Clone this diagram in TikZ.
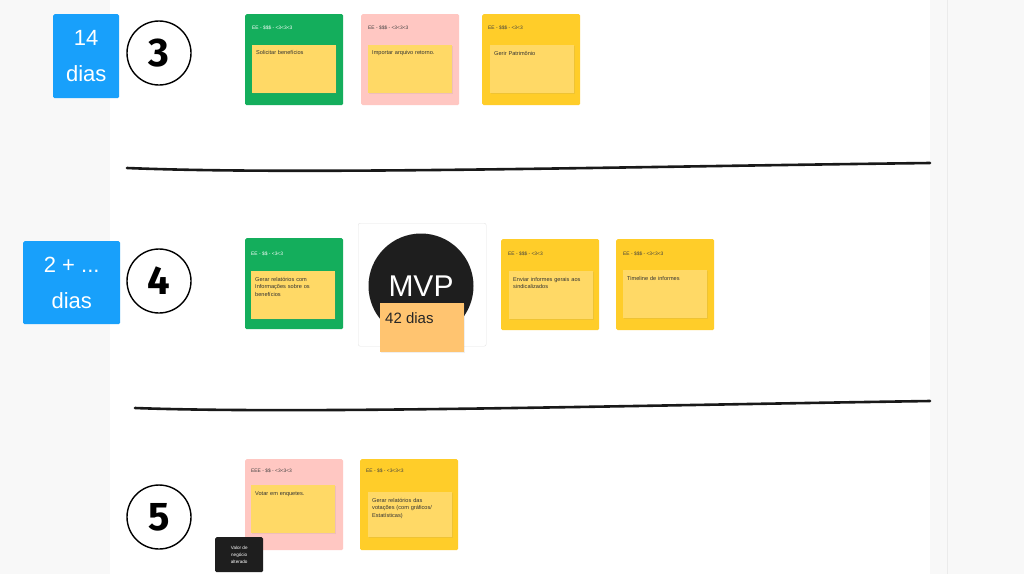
\documentclass[tikz,border=0pt]{standalone}
\usepackage{fontspec}
\setmainfont{Liberation Sans}
\newfontfamily\numfont{Fira Sans}
\usetikzlibrary{shadows}
\newcommand\mynohyph{\hyphenpenalty=10000\relax\exhyphenpenalty=10000\relax}
\definecolor{bgray}{HTML}{F8F8F8}
\definecolor{fblue}{HTML}{18A0FB}
\definecolor{fgreen}{HTML}{14AE5C}
\definecolor{fpink}{HTML}{FFC7C2}
\definecolor{fyellow}{HTML}{FFCD29}
\definecolor{fsticky}{HTML}{FFD966}
\definecolor{forange}{HTML}{FFC470}
\definecolor{fdark}{HTML}{1E1E1E}
\begin{document}
\begin{tikzpicture}[x=1pt,y=-1pt,
  card/.style={rounded corners=1.5pt, inner sep=0, anchor=north west, minimum width=98pt, minimum height=91pt},
  sticky/.style={fill=fsticky, inner sep=0, anchor=north west, minimum width=84pt, minimum height=48pt, drop shadow={opacity=0.12, shadow xshift=0.6pt, shadow yshift=-1pt}},
  hdr/.style={anchor=west, inner sep=0, font=\fontsize{4.9}{5}\selectfont},
  stext/.style={anchor=north west, inner sep=0, text width=70pt, align=left, font=\fontsize{5.6}{7.6}\selectfont\mynohyph, text=black!80},
  bluebox/.style={fill=fblue, rounded corners=1.5pt, text=white, align=center, inner sep=0, font=\fontsize{22}{36}\selectfont},
  numc/.style={circle, draw=black, line width=1.4pt, minimum size=64pt, inner sep=0},
  numtxt/.style={inner sep=0, font=\numfont\bfseries\fontsize{40}{40}\selectfont},
  stroke/.style={line width=2.6pt, line cap=round, black!90}
]
\useasboundingbox (0,0) rectangle (1024,574);
\fill[bgray] (0,0) rectangle (1024,574);
\fill[white] (110,0) rectangle (930,574);
\draw[black!8, line width=0.8pt] (947,0) -- (947,574);

% blue duration boxes
\node[bluebox, minimum width=66pt, minimum height=84pt, anchor=north west] (d3) at (53,14) {14\\dias};
\node[bluebox, minimum width=97pt, minimum height=83pt, anchor=north west] (d4) at (23,241) {2 + ...\\dias};

% number circles
\node[numc] (n3) at (159,53) {};
\node[numtxt] (t3) at (n3) {3};
\node[numc] (n4) at (159,281) {};
\node[numtxt] (t4) at (n4) {4};
\node[numc] (n5) at (159,517) {};
\node[numtxt] (t5) at (n5) {5};

% separator strokes
\coordinate (l1a) at (127,168);
\coordinate (l1b) at (930,163);
\draw[stroke] (l1a) .. controls (300,175) and (600,167) .. (l1b);
\coordinate (l2a) at (135,408);
\coordinate (l2b) at (930,401);
\draw[stroke] (l2a) .. controls (300,414) and (600,406) .. (l2b);

% ---------- row 3 ----------
\node[card, fill=fgreen] (c1) at (245,14) {};
\node[hdr, text=white] (c1h) at ([shift={(7,14)}]c1.north west) {EE - \$\$\$ - <3<3<3};
\node[sticky] (c1s) at ([shift={(7,31)}]c1.north west) {};
\node[stext] (c1t) at ([shift={(4,5)}]c1s.north west) {Solicitar benefícios};

\node[card, fill=fpink] (c2) at (361,14) {};
\node[hdr, text=black!75] (c2h) at ([shift={(7,14)}]c2.north west) {EE - \$\$\$ - <3<3<3};
\node[sticky] (c2s) at ([shift={(7,31)}]c2.north west) {};
\node[stext] (c2t) at ([shift={(4,5)}]c2s.north west) {Importar arquivo retorno.};

\node[card, fill=fyellow] (c3) at (482,14) {};
\node[hdr, text=black!75] (c3h) at ([shift={(6,14)}]c3.north west) {EE - \$\$\$ - <3<3};
\node[sticky] (c3s) at ([shift={(8,31)}]c3.north west) {};
\node[stext] (c3t) at ([shift={(4,6)}]c3s.north west) {Gerir Patrimônio};

% ---------- row 4 ----------
\node[card, fill=fgreen] (m1) at (245,238) {};
\node[hdr, text=white] (m1h) at ([shift={(6,16)}]m1.north west) {EE - \$\$ - <3<3};
\node[sticky] (m1s) at ([shift={(6,33)}]m1.north west) {};
\node[stext, text width=64pt] (m1t) at ([shift={(4,6)}]m1s.north west) {Gerar relatórios com Informações sobre os benefícios};

\node[draw=black!10, fill=white, rounded corners=2pt, inner sep=0, anchor=north west, minimum width=128pt, minimum height=123pt] (mvp) at (358,223) {};
\node[circle, fill=fdark, minimum size=105pt, inner sep=0, text=white, font=\fontsize{30}{30}\selectfont] (mvpc) at (421,286) {MVP};
\node[fill=forange, inner sep=0, anchor=north west, minimum width=84pt, minimum height=49pt, drop shadow={opacity=0.12, shadow xshift=0.6pt, shadow yshift=-1pt}] (o42) at (380,303) {};
\node[anchor=north west, inner sep=0, font=\fontsize{15}{16}\selectfont, text=black!85] (o42t) at ([shift={(5,9)}]o42.north west) {42 dias};

\node[card, fill=fyellow] (m3) at (501,239) {};
\node[hdr, text=black!75] (m3h) at ([shift={(7,15)}]m3.north west) {EE - \$\$\$ - <3<3};
\node[sticky] (m3s) at ([shift={(8,32)}]m3.north west) {};
\node[stext] (m3t) at ([shift={(4,6)}]m3s.north west) {Enviar informes gerais aos sindicalizados};

\node[card, fill=fyellow] (m4) at (616,239) {};
\node[hdr, text=black!75] (m4h) at ([shift={(7,15)}]m4.north west) {EE - \$\$\$ - <3<3<3};
\node[sticky] (m4s) at ([shift={(7,31)}]m4.north west) {};
\node[stext] (m4t) at ([shift={(4,6)}]m4s.north west) {Timeline de informes};

% ---------- row 5 ----------
\node[card, fill=fpink] (b1) at (245,459) {};
\node[hdr, text=black!75] (b1h) at ([shift={(6,12)}]b1.north west) {EEE - \$\$ - <3<3<3};
\node[sticky] (b1s) at ([shift={(6,26)}]b1.north west) {};
\node[stext] (b1t) at ([shift={(4,6)}]b1s.north west) {Votar em enquetes.};

\node[card, fill=fyellow] (b2) at (360,459) {};
\node[hdr, text=black!75] (b2h) at ([shift={(6,12)}]b2.north west) {EE - \$\$ - <3<3<3};
\node[sticky, minimum height=45pt] (b2s) at ([shift={(8,33)}]b2.north west) {};
\node[stext] (b2t) at ([shift={(4,6)}]b2s.north west) {Gerar relatórios das votações (com gráficos/ Estatísticas)};

\node[fill=fdark, rounded corners=1.5pt, inner sep=0, anchor=north west, minimum width=48pt, minimum height=35pt] (tip) at (215,537) {};
\node[text=white, align=center, inner sep=0, font=\fontsize{4.6}{7}\selectfont] (tipt) at (tip) {Valor de\\negócio\\alterado};
\end{tikzpicture}
\end{document}
